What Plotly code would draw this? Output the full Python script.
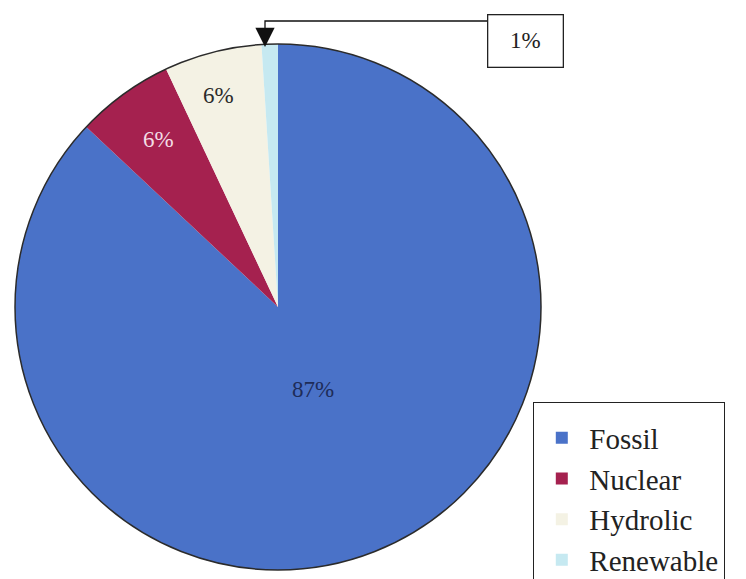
import plotly.graph_objects as go

# Electricity generation share by source
sources = ["Fossil", "Nuclear", "Hydrolic", "Renewable"]
shares = [87, 6, 6, 1]
slice_colors = ["#4a72c8", "#a5214f", "#f4f2e4", "#c6e9f1"]
label_colors = ["#1e2c58", "#f3dde5", "#2a2a2a", "#2a2a2a"]
# label anchor points (page pixels) for the slice percentages; None = callout
label_anchor = [(313, 389), (158, 139), (219, 95), None]

W, H = 746, 579
# pie box in page pixels
PIE_L, PIE_R, PIE_T, PIE_B = 15, 541, 44, 570


def px(x):
    return x / W


def py(y):
    return 1 - y / H


SERIF = "Liberation Serif"
total = sum(shares)
pct_text = [f"{round(100 * v / total)}%" for v in shares]

fig = go.Figure(
    go.Pie(
        labels=sources,
        values=shares,
        sort=False,
        direction="clockwise",
        rotation=0,
        domain=dict(x=[px(PIE_L), px(PIE_R)], y=[py(PIE_B), py(PIE_T)]),
        marker=dict(colors=slice_colors, line=dict(width=0)),
        textinfo="none",
        hoverinfo="label+percent",
    )
)

shapes = [
    # dark rim around the pie
    dict(type="circle", xref="paper", yref="paper",
         x0=px(PIE_L), x1=px(PIE_R), y0=py(PIE_B), y1=py(PIE_T),
         line=dict(color="#2b2b2b", width=1.5), layer="above"),
    # elbow connector from the callout box down to the small slice
    dict(type="path", xref="paper", yref="paper",
         path=f"M{px(487)},{py(21)} L{px(265)},{py(21)} L{px(265)},{py(36)}",
         line=dict(color="#111", width=1.3)),
]

annotations = []
for txt, col, anchor in zip(pct_text, label_colors, label_anchor):
    if anchor is None:
        continue
    annotations.append(dict(
        text=txt, xref="paper", yref="paper", x=px(anchor[0]), y=py(anchor[1]),
        xanchor="center", yanchor="middle", showarrow=False,
        font=dict(family=SERIF, size=23, color=col)))

# boxed callout for the smallest slice
annotations += [
    dict(text=pct_text[3], xref="paper", yref="paper",
         x=px(525), y=py(41), xanchor="center", yanchor="middle",
         showarrow=False, font=dict(family=SERIF, size=23, color="#222"),
         bordercolor="#222", borderwidth=1.3, bgcolor="white",
         width=72, height=49),
    dict(text=" ", xref="paper", yref="paper", x=px(265), y=py(47),
         ax=0, ay=-18, showarrow=True, arrowhead=2, arrowsize=3.2,
         arrowwidth=1.2, arrowcolor="#111", font=dict(size=1), standoff=0),
]

fig.update_layout(
    width=W, height=H,
    margin=dict(l=0, r=0, t=0, b=0, autoexpand=False),
    font=dict(family=SERIF),
    paper_bgcolor="white", plot_bgcolor="white",
    shapes=shapes, annotations=annotations,
    legend=dict(
        x=px(533), y=py(402), xanchor="left", yanchor="top",
        bgcolor="white", bordercolor="#222", borderwidth=1.3,
        font=dict(family=SERIF, size=29, color="#222"),
        title=dict(text=" ", font=dict(size=7)),
        itemwidth=45,
        traceorder="normal",
    ),
)

fig.write_html("out.html")
